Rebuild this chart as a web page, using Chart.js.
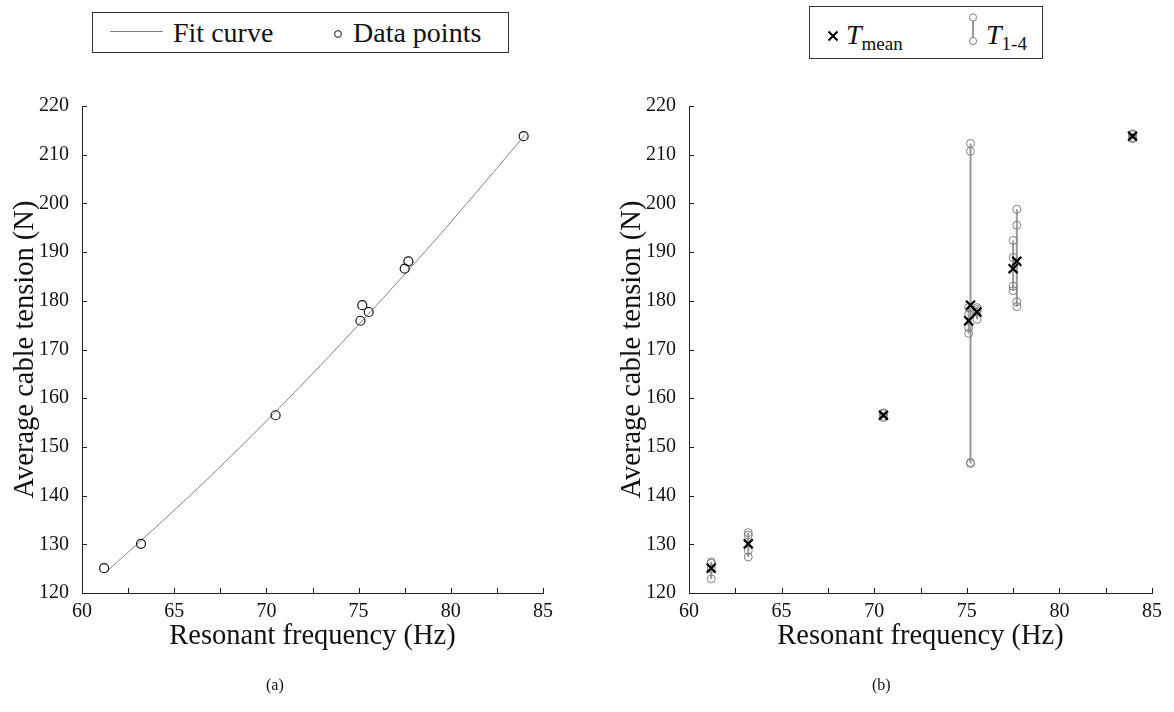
<!DOCTYPE html>
<html>
<head>
<meta charset="utf-8">
<script src="https://cdn.jsdelivr.net/npm/chart.js@4.4.1/dist/chart.umd.min.js"></script>
<style>
  body { margin: 0; width: 1174px; height: 712px; background: #fff; position: relative; overflow: hidden;
         font-family: 'Liberation Serif', serif; color: #111; }
  canvas { position: absolute; top: 0; }
  .legend { position: absolute; border: 1px solid #333; background: #fff; box-sizing: border-box; }
  .legend span, .legend svg { position: absolute; }
  .lbl { font-size: 28px; line-height: 28px; white-space: nowrap; }
  .lbl i { font-style: italic; }
  .lbl sub { font-size: 19px; vertical-align: -6px; line-height: 0; }
  .cap { position: absolute; top: 676px; font-size: 16px; }
</style>
</head>
<body>
<canvas id="chartA" width="587" height="712" style="left:0"></canvas>
<canvas id="chartB" width="567" height="712" style="left:607px"></canvas>

<div class="legend" style="left:92px; top:12px; width:417px; height:41px;">
  <svg style="left:17px; top:17px" width="54" height="3"><line x1="0" y1="1.5" x2="53" y2="1.5" stroke="#808080" stroke-width="1"/></svg>
  <span class="lbl" style="left:80px; top:6px;">Fit curve</span>
  <svg style="left:240px; top:16px" width="10" height="10"><circle cx="5" cy="5" r="3.4" fill="none" stroke="#111" stroke-width="1"/></svg>
  <span class="lbl" style="left:260px; top:6px;">Data points</span>
</div>

<div class="legend" style="left:809px; top:6px; width:234px; height:53px;">
  <svg style="left:17px; top:23px" width="12" height="12"><path d="M1.5 1.5 L10.5 10.5 M10.5 1.5 L1.5 10.5" stroke="#000" stroke-width="2"/></svg>
  <span class="lbl" style="left:36px; top:14px;"><i>T</i><sub>mean</sub></span>
  <svg style="left:157px; top:5px" width="12" height="34"><line x1="6" y1="6" x2="6" y2="29" stroke="#9a9a9a" stroke-width="2"/><circle cx="6" cy="5.5" r="3.6" fill="#fff" stroke="#808080" stroke-width="1"/><circle cx="6" cy="29" r="3.6" fill="#fff" stroke="#808080" stroke-width="1"/></svg>
  <span class="lbl" style="left:176px; top:14px;"><i>T</i><sub>1-4</sub></span>
</div>

<div class="cap" style="left:266px;">(a)</div>
<div class="cap" style="left:872px;">(b)</div>

<script>
// resonant frequency of each test (Hz)
var freq = [61.2, 63.2, 70.5, 75.1, 75.2, 75.55, 77.5, 77.7, 83.95];
// mean cable tension per test (N)
var meanTension = [125.1, 130.1, 156.5, 175.9, 179.1, 177.7, 186.6, 188.1, 213.8];
// the four single tension readings per test (N)
var t1 = [126.4, 132.4, 157.0, 178.6, 212.3, 178.6, 192.4, 198.8, 214.3];
var t2 = [126.1, 131.9, 156.8, 177.2, 210.7, 178.2, 188.9, 195.5, 214.1];
var t3 = [125.0, 128.7, 156.3, 174.5, 146.8, 177.8, 183.0, 179.8, 213.5];
var t4 = [122.9, 127.4, 156.0, 173.3, 146.6, 176.2, 182.1, 178.8, 213.3];
// fit curve (a)
var fitFreq = [61.3, 64, 67, 70, 73, 76, 79, 82, 84];
var fitTension = [124.3, 133.5, 144.1, 155.3, 167.0, 179.2, 191.8, 205.0, 214.0];

var xTitle = "Resonant frequency (Hz)";
var yTitle = "Average cable tension (N)";

Chart.defaults.font.family = "'Liberation Serif', serif";
Chart.defaults.color = "#111";

var innerTicks = {
  id: 'innerTicks',
  afterDraw: function (chart) {
    var ctx = chart.ctx;
    var xs = chart.scales.x;
    var ys = chart.scales.y;
    ctx.save();
    ctx.strokeStyle = "#222";
    ctx.lineWidth = 1;
    ctx.beginPath();
    xs.ticks.forEach(function (t) {
      var px = Math.round(xs.getPixelForValue(t.value)) + 0.5;
      ctx.moveTo(px, xs.top);
      ctx.lineTo(px, xs.top - 5);
    });
    ys.ticks.forEach(function (t) {
      var py = Math.round(ys.getPixelForValue(t.value)) + 0.5;
      ctx.moveTo(ys.right, py);
      ctx.lineTo(ys.right + 5, py);
    });
    ctx.stroke();
    ctx.restore();
  }
};

var makeScales = function () {
  return {
    x: {
      type: 'linear', min: 60, max: 85,
      afterFit: function (s) { s.height = 119; },
      grid: { display: true, drawOnChartArea: false, drawTicks: false },
      border: { display: true, color: "#222", width: 1 },
      ticks: {
        stepSize: 2.5, autoSkip: false, maxRotation: 0, padding: 7,
        font: { size: 20 }, color: "#111",
        callback: function (v) { return v % 5 === 0 ? v : ''; }
      },
      title: { display: true, text: xTitle, font: { size: 28.5 }, color: "#111", padding: { top: 0, bottom: 58 } }
    },
    y: {
      type: 'linear', min: 120, max: 220,
      afterFit: function (s) { s.width = 82; },
      grid: { display: true, drawOnChartArea: false, drawTicks: false },
      border: { display: true, color: "#222", width: 1 },
      ticks: { stepSize: 10, padding: 13, font: { size: 20 }, color: "#111" },
      title: { display: true, text: yTitle, font: { size: 28.5 }, color: "#111", padding: { top: 8, bottom: 0 } }
    }
  };
};

var toPoints = function (xs, ys) {
  return xs.map(function (x, i) { return { x: x, y: ys[i] }; });
};

var ctxA = document.getElementById("chartA");
var chartA = new Chart(ctxA, {
  type: 'scatter',
  data: {
    datasets: [{
      label: "Data points",
      data: toPoints(freq, meanTension),
      pointStyle: 'circle',
      pointRadius: 4.5,
      borderColor: "#111",
      borderWidth: 1.2,
      backgroundColor: "rgba(255,255,255,0)"
    }, {
      label: "Fit curve",
      data: toPoints(fitFreq, fitTension),
      showLine: true,
      pointRadius: 0,
      borderColor: "#808080",
      borderWidth: 1,
      tension: 0.3
    }]
  },
  options: {
    responsive: false, animation: false, devicePixelRatio: 1,
    layout: { padding: { left: 0, top: 106, right: 44, bottom: 0 } },
    plugins: { legend: { display: false }, tooltip: { enabled: false } },
    scales: makeScales()
  },
  plugins: [innerTicks]
});

var datasetsB = [{
  label: "T mean",
  data: toPoints(freq, meanTension),
  pointStyle: 'crossRot',
  pointRadius: 6.3,
  borderColor: "#000",
  borderWidth: 2.2
}];
freq.forEach(function (f, i) {
  var vals = [t1[i], t2[i], t3[i], t4[i]].sort(function (a, b) { return a - b; });
  datasetsB.push({
    label: "T 1-4",
    data: vals.map(function (v) { return { x: f, y: v }; }),
    showLine: true,
    borderColor: "#9a9a9a",
    borderWidth: 2,
    pointStyle: 'circle',
    pointRadius: 4,
    pointBorderColor: "#808080",
    pointBorderWidth: 1,
    pointBackgroundColor: "rgba(255,255,255,0)"
  });
});

var ctxB = document.getElementById("chartB");
var chartB = new Chart(ctxB, {
  type: 'scatter',
  data: { datasets: datasetsB },
  options: {
    responsive: false, animation: false, devicePixelRatio: 1,
    layout: { padding: { left: 0, top: 106, right: 22, bottom: 0 } },
    plugins: { legend: { display: false }, tooltip: { enabled: false } },
    scales: makeScales()
  },
  plugins: [innerTicks]
});
</script>
</body>
</html>
